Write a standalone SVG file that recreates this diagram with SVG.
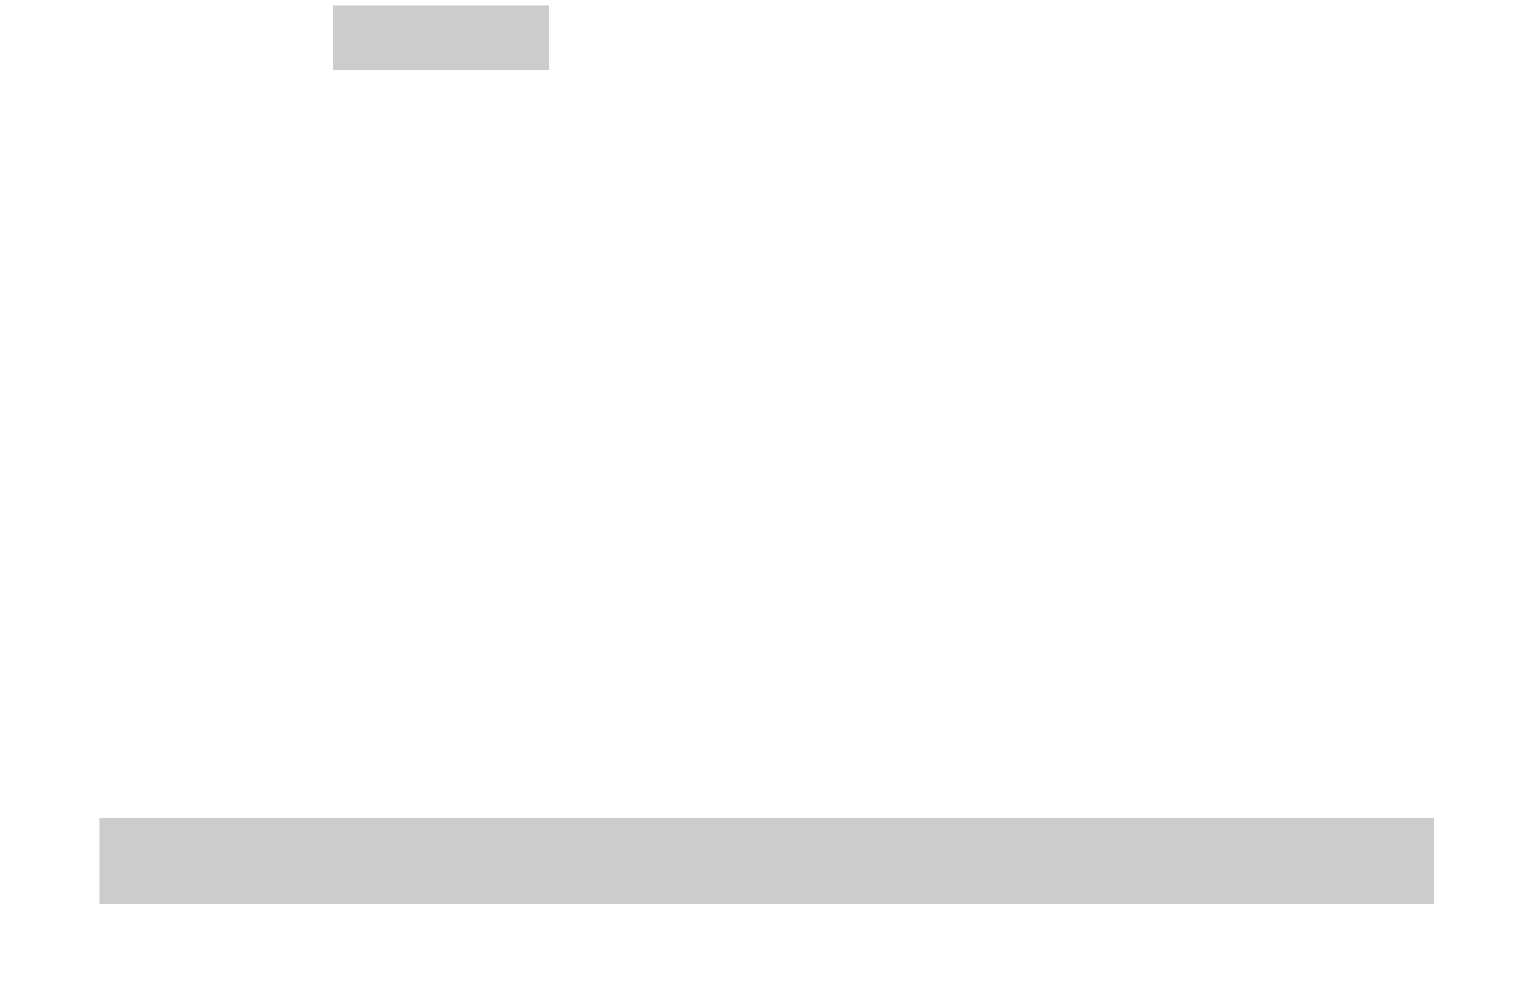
<svg xmlns="http://www.w3.org/2000/svg" width="1526" height="1000" viewBox="0 0 1526 1000">
<style>.blk{fill:#cccccc;}</style>
<rect width="1526" height="1000" fill="#ffffff"/>
<g id="node-top"><rect class="blk" x="333" y="5.5" width="216" height="64.5"/></g>
<g id="node-bottom"><rect class="blk" x="99.5" y="818" width="1334.5" height="86"/></g>
<g id="connectors"></g>
</svg>
